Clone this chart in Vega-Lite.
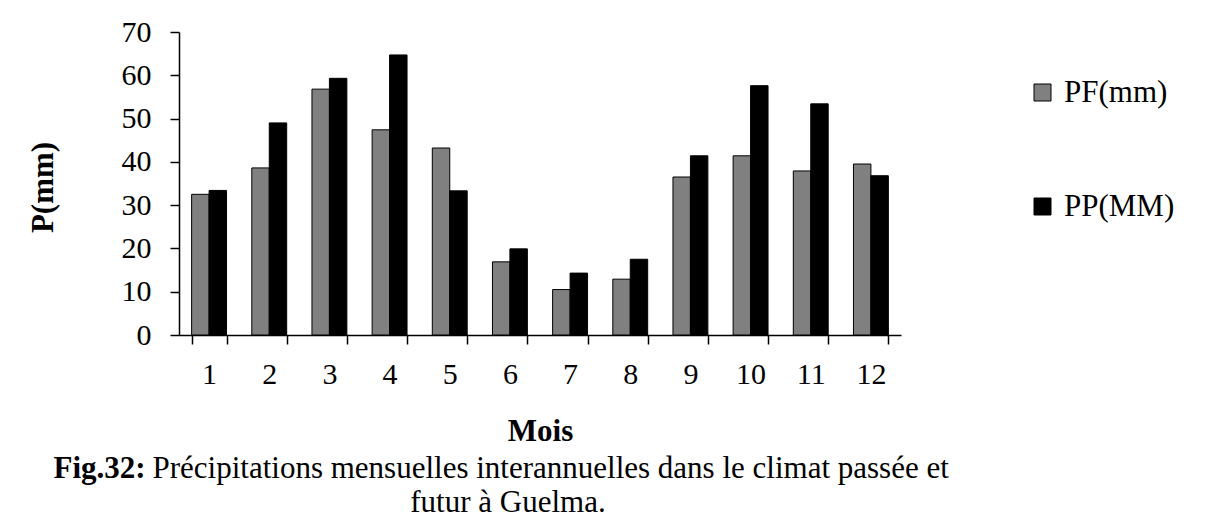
{
  "$schema": "https://vega.github.io/schema/vega-lite/v6.json",
  "autosize": {"type": "none"},
  "width": 722,
  "height": 303,
  "padding": {"left": 179, "top": 32, "right": 313, "bottom": 184},
  "background": "white",
  "config": {
    "font": "Liberation Serif",
    "view": {"stroke": null},
    "axis": {"labelFont": "Liberation Serif", "titleFont": "Liberation Serif", "labelColor": "black", "titleColor": "black", "domainColor": "black", "tickColor": "black", "grid": false},
    "legend": {"labelFont": "Liberation Serif"}
  },
  "title": {
    "text": "futur à Guelma.",
    "orient": "bottom",
    "anchor": "middle",
    "frame": "group",
    "font": "Liberation Serif",
    "fontSize": 31,
    "fontWeight": "normal",
    "color": "black",
    "dx": -32,
    "offset": 5
  },
  "data": {
    "values": [
      {"mois": 1, "serie": "PF(mm)", "p": 32.5},
      {"mois": 2, "serie": "PF(mm)", "p": 38.6},
      {"mois": 3, "serie": "PF(mm)", "p": 56.8},
      {"mois": 4, "serie": "PF(mm)", "p": 47.4},
      {"mois": 5, "serie": "PF(mm)", "p": 43.2},
      {"mois": 6, "serie": "PF(mm)", "p": 16.9},
      {"mois": 7, "serie": "PF(mm)", "p": 10.5},
      {"mois": 8, "serie": "PF(mm)", "p": 12.9},
      {"mois": 9, "serie": "PF(mm)", "p": 36.5},
      {"mois": 10, "serie": "PF(mm)", "p": 41.4},
      {"mois": 11, "serie": "PF(mm)", "p": 37.9},
      {"mois": 12, "serie": "PF(mm)", "p": 39.5},
      {"mois": 1, "serie": "PP(MM)", "p": 33.4},
      {"mois": 2, "serie": "PP(MM)", "p": 49.0},
      {"mois": 3, "serie": "PP(MM)", "p": 59.3},
      {"mois": 4, "serie": "PP(MM)", "p": 64.7},
      {"mois": 5, "serie": "PP(MM)", "p": 33.3},
      {"mois": 6, "serie": "PP(MM)", "p": 19.9},
      {"mois": 7, "serie": "PP(MM)", "p": 14.3},
      {"mois": 8, "serie": "PP(MM)", "p": 17.5},
      {"mois": 9, "serie": "PP(MM)", "p": 41.4},
      {"mois": 10, "serie": "PP(MM)", "p": 57.6},
      {"mois": 11, "serie": "PP(MM)", "p": 53.4},
      {"mois": 12, "serie": "PP(MM)", "p": 36.8}
    ]
  },
  "encoding": {
    "xOffset": {"field": "serie", "type": "nominal", "scale": {"domain": ["PF(mm)", "PP(MM)"], "paddingInner": 0, "paddingOuter": 0}},
    "color": {
      "field": "serie", "type": "nominal",
      "scale": {"domain": ["PF(mm)", "PP(MM)"], "range": ["#808080", "#000000"]},
      "legend": {
        "title": null, "orient": "none", "legendX": 848, "legendY": 45,
        "symbolType": "square", "symbolSize": 289, "symbolStrokeColor": "black", "symbolStrokeWidth": 1,
        "labelFontSize": 31, "labelColor": "black", "labelOffset": 6, "rowPadding": 82
      }
    }
  },
  "layer": [
    {
      "transform": [{"filter": "datum.serie == 'PF(mm)'"}],
      "mark": {"type": "bar", "stroke": "black", "strokeWidth": 1},
      "encoding": {
        "x": {
          "field": "mois", "type": "ordinal",
          "scale": {"paddingInner": 0.42, "paddingOuter": 0.21},
          "axis": {
            "title": "Mois", "titleFontSize": 31, "titleFontWeight": "bold", "titleY": 96, "titleBaseline": "middle",
            "labelAngle": 0, "labelFontSize": 30, "labelPadding": 15, "tickSize": 9, "tickWidth": 1.5, "domainWidth": 1.5,
            "tickBand": "extent"
          }
        },
        "y": {
          "field": "p", "type": "quantitative",
          "scale": {"domain": [0, 70]},
          "axis": {
            "title": "P(mm)", "titleFontSize": 31, "titleFontWeight": "bold", "titleX": -136, "titleY": 155, "titleBaseline": "middle",
            "values": [0, 10, 20, 30, 40, 50, 60, 70], "labelFontSize": 30, "labelPadding": 19, "tickSize": 9, "tickWidth": 1.5, "domainWidth": 1.5
          }
        }
      }
    },
    {
      "transform": [{"filter": "datum.serie == 'PP(MM)'"}],
      "mark": {"type": "bar", "stroke": "black", "strokeWidth": 1},
      "encoding": {
        "x": {
          "field": "mois", "type": "ordinal",
          "scale": {"paddingInner": 0.42, "paddingOuter": 0.21},
          "axis": {
            "orient": "top", "domain": false, "ticks": false, "labels": false,
            "title": "Précipitations mensuelles interannuelles dans le climat passée et",
            "titleFontSize": 31, "titleFontWeight": "normal", "titleAlign": "left", "titleBaseline": "alphabetic",
            "titleAngle": 0, "titleX": -27, "titleY": 445
          }
        },
        "y": {
          "field": "p", "type": "quantitative",
          "scale": {"domain": [0, 70]},
          "axis": {
            "orient": "right", "domain": false, "ticks": false, "labels": false,
            "title": "Fig.32:", "titleFontSize": 31, "titleFontWeight": "bold", "titleAlign": "left", "titleBaseline": "alphabetic",
            "titleAngle": 0, "titleX": -848, "titleY": 445
          }
        }
      }
    }
  ],
  "resolve": {"axis": {"x": "independent", "y": "independent"}}
}
